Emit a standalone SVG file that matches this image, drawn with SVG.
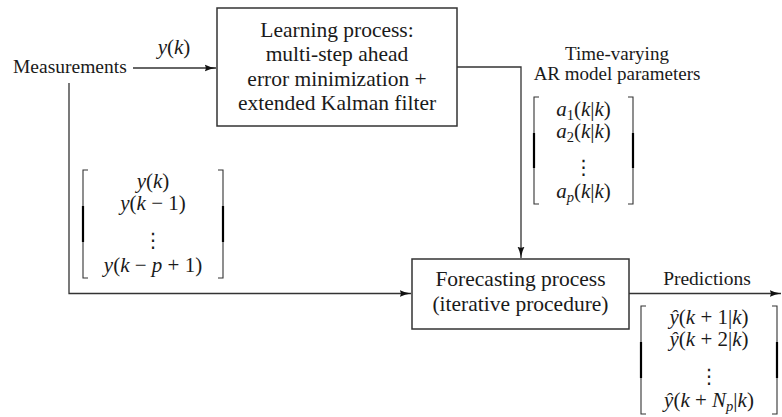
<svg xmlns="http://www.w3.org/2000/svg" width="782" height="417" viewBox="0 0 782 417">
<style>
text{font-family:"Liberation Serif","Times New Roman",serif;fill:#1a1a1a}
.lbl{font-size:19.5px}
.lbl2{font-size:19px;text-anchor:middle}
.bt{font-size:21.5px;text-anchor:middle}
.m{font-size:21px;text-anchor:middle}
.i{font-style:italic}
.sub{font-size:14.5px}
.dots{font-family:"DejaVu Sans",sans-serif;font-size:20px;text-anchor:middle}
.ln{stroke:#333;stroke-width:1.3;fill:none}
.box{fill:#fff;stroke:#333;stroke-width:1.5}
.br{stroke:#333;stroke-width:1.1;fill:none}
.brm{stroke:#000;stroke-width:2.2}
</style>
<defs>
<marker id="arr" viewBox="0 0 12 8" refX="11.5" refY="4" markerWidth="12" markerHeight="8" markerUnits="userSpaceOnUse" orient="auto">
<path d="M0,0.4 Q5,3.1 11.5,4 Q5,4.9 0,7.6 Q2.6,4 0,0.4 z" fill="#111"/>
</marker>
</defs>

<g id="connectors">
<path class="ln" d="M133,68 H216" marker-end="url(#arr)"/>
<path class="ln" d="M69,83 V293.5 H411" marker-end="url(#arr)"/>
<path class="ln" d="M457,67 H521 V258" marker-end="url(#arr)"/>
<path class="ln" d="M629,293.5 H781" marker-end="url(#arr)"/>
</g>

<g id="measurements">
<text class="lbl" x="13" y="73">Measurements</text>
</g>
<g id="label-yk">
<text class="m" x="174" y="54"><tspan class="i">y</tspan>(<tspan class="i">k</tspan>)</text>
</g>

<g id="learning">
<rect class="box" x="217" y="8" width="240" height="118"/>
<text class="bt" x="337" y="37">Learning process:</text>
<text class="bt" x="337" y="61">multi-step ahead</text>
<text class="bt" x="337" y="85.5">error minimization +</text>
<text class="bt" x="337" y="110">extended Kalman filter</text>
</g>

<g id="ar-label">
<text class="lbl2" x="617" y="60">Time-varying</text>
<text class="lbl2" x="617" y="80">AR model parameters</text>
</g>

<g id="ar-vector">
<path class="br" d="M539,97 H534 V204 H539 M628,97 H633 V204 H628"/>
<path class="brm" d="M534,133 V168 M633,133 V168"/>
<text class="m" x="583.5" y="116"><tspan class="i">a</tspan><tspan class="sub" dy="4">1</tspan><tspan dy="-4">(</tspan><tspan class="i">k</tspan>|<tspan class="i">k</tspan>)</text>
<text class="m" x="583.5" y="138"><tspan class="i">a</tspan><tspan class="sub" dy="4">2</tspan><tspan dy="-4">(</tspan><tspan class="i">k</tspan>|<tspan class="i">k</tspan>)</text>
<text class="dots" x="583.5" y="174">⋮</text>
<text class="m" x="583.5" y="198"><tspan class="i">a</tspan><tspan class="sub i" dy="4">p</tspan><tspan dy="-4">(</tspan><tspan class="i">k</tspan>|<tspan class="i">k</tspan>)</text>
</g>

<g id="y-vector">
<path class="br" d="M88,170 H83 V278 H88 M218,170 H223 V278 H218"/>
<path class="brm" d="M83,206 V242 M223,206 V242"/>
<text class="m" x="153" y="188"><tspan class="i">y</tspan>(<tspan class="i">k</tspan>)</text>
<text class="m" x="153" y="210"><tspan class="i">y</tspan>(<tspan class="i">k</tspan> − 1)</text>
<text class="dots" x="153" y="247">⋮</text>
<text class="m" x="153" y="272"><tspan class="i">y</tspan>(<tspan class="i">k</tspan> − <tspan class="i">p</tspan> + 1)</text>
</g>

<g id="forecasting">
<rect class="box" x="412" y="259" width="217" height="70"/>
<text class="bt" x="520.5" y="286">Forecasting process</text>
<text class="bt" x="520.5" y="311">(iterative procedure)</text>
</g>

<g id="predictions-label">
<text class="lbl" x="707" y="285" text-anchor="middle">Predictions</text>
</g>

<g id="pred-vector">
<path class="br" d="M646,306 H641 V414 H646 M772,306 H777 V414 H772"/>
<path class="brm" d="M641,342 V378 M777,342 V378"/>
<text class="m" x="709" y="324"><tspan class="i">ŷ</tspan>(<tspan class="i">k</tspan> + 1|<tspan class="i">k</tspan>)</text>
<text class="m" x="709" y="346"><tspan class="i">ŷ</tspan>(<tspan class="i">k</tspan> + 2|<tspan class="i">k</tspan>)</text>
<text class="dots" x="709" y="383">⋮</text>
<text class="m" x="709" y="407"><tspan class="i">ŷ</tspan>(<tspan class="i">k</tspan> + <tspan class="i">N</tspan><tspan class="sub i" dy="4">p</tspan><tspan dy="-4">|</tspan><tspan class="i">k</tspan>)</text>
</g>
</svg>
